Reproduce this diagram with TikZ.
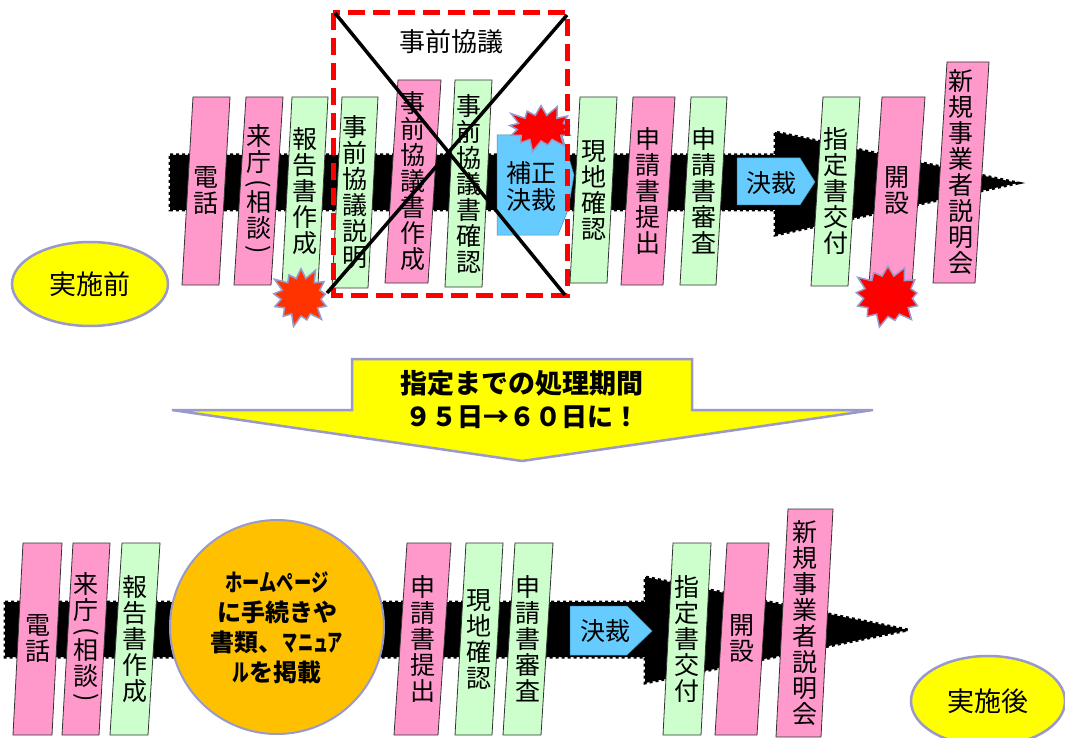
\documentclass[tikz,border=0pt]{standalone}
\usepackage{fontspec}
\usepackage{graphicx}
\setmainfont{Noto Sans CJK JP}
\usetikzlibrary{shapes.symbols,shapes.geometric}
\definecolor{pk}{HTML}{FF99CC}
\definecolor{gr}{HTML}{CCFFCC}
\definecolor{bl}{HTML}{66CCFF}
\definecolor{yl}{HTML}{FFFF00}
\definecolor{org}{HTML}{FFC000}
\definecolor{lav}{HTML}{9999CC}
\definecolor{brst}{HTML}{FF0000}
\definecolor{brsto}{HTML}{FF3300}
\tikzset{
  boxline/.style={draw=black!80, line width=0.8pt},
  vtext/.style={font=\fontsize{25}{26}\selectfont, align=center, inner sep=0pt},
  band/.style={fill=black, draw=black, line width=3pt, dash pattern=on 3pt off 3pt},
  burst/.style={starburst, starburst points=13, starburst point height=13pt, draw=lav, line width=1.5pt, inner sep=0pt},
  blueshape/.style={fill=bl, draw=bl!70!black, line width=0.5pt},
  htext/.style={font=\fontsize{25}{27}\selectfont, align=center, inner sep=0pt},
  oval/.style={ellipse, fill=yl, draw=lav, line width=2.5pt, font=\fontsize{27}{29}\selectfont},
}
\newcommand{\slb}[8]{%
  \draw[boxline,fill=#7] (#2,#4) -- ({#2+#5},#4) -- ({#2+#5+#6},#3) -- ({#2+#6},#3) -- cycle;
  \node[vtext] (#1) at ({#2+(#5+#6)/2},{(#3+#4)/2}) {#8};
}
\newcommand{\vlp}{\rotatebox[origin=c]{-90}{(}}
\newcommand{\vrp}{\rotatebox[origin=c]{-90}{)}}
\newcommand{\raichou}{来\\庁\\[-6pt]\vlp\\[-6pt]相\\談\\[-6pt]\vrp}
\begin{document}
\begin{tikzpicture}[x=1pt,y=-1pt]
\useasboundingbox[fill=white] (0,0) rectangle (1065,738);
% ---------- top band ----------
\draw[band] (170,155) -- (775,155) -- (775,132) -- (1018,183) -- (775,235) -- (775,210) -- (170,210) -- cycle;
\slb{t1}{182}{97}{285}{37}{11}{pk}{電\\話}
\slb{t2}{234}{97}{285}{37}{12}{pk}{\raichou}
\slb{t3}{282}{97}{285}{36}{10}{gr}{報\\告\\書\\作\\成}
\slb{t4}{332}{97}{288}{36}{10}{gr}{事\\前\\協\\議\\説\\明}
\slb{t5}{385}{80}{283}{43}{13}{pk}{事\\前\\協\\議\\書\\作\\成}
\slb{t6}{445}{80}{287}{37}{10}{gr}{事\\前\\協\\議\\書\\確\\認}
\slb{t7}{570}{97}{283}{37}{10}{gr}{現\\地\\確\\認}
\slb{t8}{621}{97}{285}{42}{12}{pk}{申\\請\\書\\提\\出}
\slb{t9}{680}{97}{285}{36}{11}{gr}{申\\請\\書\\審\\査}
\slb{t10}{811}{97}{286}{37}{12}{gr}{指\\定\\書\\交\\付}
\slb{t11}{869}{97}{285}{43}{13}{pk}{開\\設}
\slb{t12}{933}{62}{283}{42}{14}{pk}{新\\規\\事\\業\\者\\説\\明\\会}
% blue shapes top
\draw[blueshape] (497,135) -- (562,135) -- (574,175) -- (568,210) -- (558,235) -- (497,235) -- cycle;
\node[htext] (hosei) at (531,187) {補正\\決裁};
\draw[blueshape] (737,158) -- (800,158) -- (815,182) -- (800,205) -- (737,205) -- cycle;
\node[htext] (kessai1) at (771,183) {決裁};
% bursts
\node[burst, fill=brsto, minimum width=66pt, minimum height=64pt] (bu1) at (301,297) {};
\node[burst, fill=brst, minimum width=74pt, minimum height=52pt] (bu2) at (541,128) {};
\node[burst, fill=brst, minimum width=75pt, minimum height=67pt] (bu3) at (888,296) {};
% dashed box and cross
\draw[brst, line width=5pt, dash pattern=on 17pt off 8pt] (333,13) rectangle (567,295);
\coordinate (xa) at (335,13);
\coordinate (xb) at (565,295);
\coordinate (xc) at (567,15);
\coordinate (xd) at (327,293);
\draw[black, line width=3.5pt] (xa) -- (xb);
\draw[black, line width=3.5pt] (xc) -- (xd);
\node[font=\fontsize{26}{28}\selectfont, inner sep=0pt] (title) at (451,42) {事前協議};
\node[oval, minimum width=156pt, minimum height=84pt] (pre) at (90,284) {実施前};
% ---------- middle arrow ----------
\draw[fill=yl, draw=lav, line width=2.5pt, line join=miter] (352,359) -- (692,359) -- (692,410) -- (873,410) -- (522,461) -- (172,410) -- (352,410) -- cycle;
\node[font=\fontsize{27}{29}\bfseries\selectfont, inner sep=0pt] (m1) at (522,383) {指定までの処理期間};
\node[font=\fontsize{26}{28}\bfseries\selectfont, inner sep=0pt] (m2) at (522,417) {９５日→６０日に！};
% ---------- bottom band ----------
\draw[band] (5,602) -- (645,602) -- (645,577) -- (908,630) -- (645,683) -- (645,657) -- (5,657) -- cycle;
\slb{b1}{13}{543}{735}{39}{10}{pk}{電\\話}
\slb{b2}{62}{543}{735}{37}{11}{pk}{\raichou}
\slb{b3}{110}{543}{735}{38}{12}{gr}{報\\告\\書\\作\\成}
\slb{b4}{394}{543}{735}{44}{13}{pk}{申\\請\\書\\提\\出}
\slb{b5}{455}{543}{735}{37}{11}{gr}{現\\地\\確\\認}
\slb{b6}{503}{543}{735}{38}{12}{gr}{申\\請\\書\\審\\査}
\slb{b7}{663}{543}{735}{38}{10}{gr}{指\\定\\書\\交\\付}
\slb{b8}{715}{543}{735}{42}{12}{pk}{開\\設}
\slb{b9}{776}{509}{737}{45}{12}{pk}{新\\規\\事\\業\\者\\説\\明\\会}
\node[circle, fill=org, draw=lav, line width=2pt, minimum size=214pt, inner sep=0pt] (hp) at (277,627) {};
\node[font=\fontsize{24}{30}\bfseries\selectfont, align=center, inner sep=0pt] (hptext) at (277,628)
  {\scalebox{0.72}[1]{ホームページ}\\に手続きや\\書類、\scalebox{0.63}[1]{マニュア}\\\scalebox{0.7}[1]{ル}を掲載};
\draw[blueshape] (570,606) -- (627,606) -- (652,631) -- (627,655) -- (570,655) -- cycle;
\node[htext] (kessai2) at (605,631) {決裁};
\node[oval, minimum width=154pt, minimum height=90pt] (post) at (988,701) {実施後};
\end{tikzpicture}
\end{document}
